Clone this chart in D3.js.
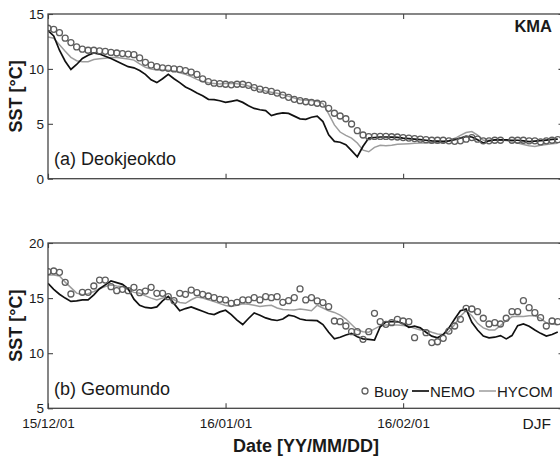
<!DOCTYPE html>
<html>
<head>
<meta charset="utf-8">
<script src="https://cdnjs.cloudflare.com/ajax/libs/d3/7.8.5/d3.min.js"></script>
<style>
body { margin: 0; background: #fff; }
text { font-family: "Liberation Sans", Arial, Helvetica, sans-serif; fill: #1a1a1a; }
</style>
</head>
<body>
<div id="chart"></div>
<script>
// SST TIME SERIES - KMA buoys, winter (DJF)

// Data (daily values, day 0 = 2015-12-01)

var startDay = "2015-12-01";
var endDay = "2016-02-29";
var tickDates = ["2015-12-01", "2016-01-01", "2016-02-01"];
var seriesNames = ["Buoy", "NEMO", "HYCOM"];
var yTicksA = [0, 5, 10, 15];
var yTicksB = [5, 10, 15, 20];

// (a) Deokjeokdo
var buoyA = [
    13.7, 13.6, 13.3, 12.8, 12.4, 12.0, 11.8, 11.7, 11.7, 11.65,
    11.6, 11.5, 11.45, 11.4, 11.35, 11.3, 11.0, 10.6, 10.35, 10.2,
    10.1, 10.05, 10.0, 9.95, 9.85, 9.7, 9.5, 9.1, 8.85, 8.7,
    8.65, 8.6, 8.55, 8.6, 8.6, 8.5, 8.3, 8.15, 8.05, 7.95,
    7.8, 7.62, 7.41, 7.23, 7.11, 7.01, 6.96, 6.87, 6.8, 6.41,
    5.96, 5.71, 5.46, 4.98, 4.37, 3.98, 3.83, 3.85, 3.85, 3.85,
    3.82, 3.8, 3.75, 3.7, 3.65, 3.6, 3.55, 3.5, 3.5, 3.5,
    3.45, 3.4, 3.45, 3.6, 3.75, 3.6, 3.45, 3.45, 3.5, 3.5,
    null, 3.5, 3.5, 3.5, 3.45, 3.45, 3.35, 3.45, 3.5, 3.55
];
var nemoA = [
    13.5, 13.0, 11.7, 10.7, 9.95, 10.4, 10.95, 11.25, 11.45, 11.35,
    11.15, 10.95, 10.7, 10.45, 10.2, 10.1, 9.85, 9.5, 9.0, 8.75,
    9.1, 9.5, 9.1, 8.75, 8.35, 8.1, 7.8, 7.55, 7.23, 7.2,
    7.1, 6.95, 7.05, 7.15, 6.95, 6.65, 6.4, 6.28, 6.2, 5.75,
    5.9, 6.0, 5.95, 5.7, 5.45, 5.4, 5.6, 5.7, 5.2, 4.0,
    3.4, 3.32, 3.1, 2.55, 2.0, 2.95, 3.7, 3.75, 3.8, 3.8,
    3.78, 3.77, 3.7, 3.65, 3.6, 3.55, 3.5, 3.45, 3.42, 3.4,
    3.45, 3.55, 3.7, 3.85, 3.8, 3.55, 3.25, 3.45, 3.53, 3.53,
    3.53, 3.5, 3.5, 3.45, 3.38, 3.42, 3.47, 3.52, 3.58, 3.6
];
var hycomA = [
    12.9, 12.8, 12.2, 11.6, 11.05, 10.75, 10.66, 10.66, 10.85, 10.93,
    10.98, 11.03, 11.03, 10.98, 10.9, 10.8, 10.45, 10.15, 9.98, 9.9,
    9.9, 9.88, 9.8, 9.65, 9.5, 9.3, 9.05, 8.85, 8.73, 8.68,
    8.63, 8.66, 8.69, 8.65, 8.58, 8.45, 8.28, 8.1, 7.98, 7.88,
    7.78, 7.64, 7.5, 7.35, 7.19, 7.15, 7.12, 7.06, 6.85, 5.9,
    4.9, 4.25, 3.95, 3.7, 3.25, 2.6, 2.45, 2.85, 3.05, 3.0,
    3.05, 3.13, 3.16, 3.19, 3.22, 3.24, 3.26, 3.28, 3.28, 3.28,
    3.45, 3.65, 3.95, 4.2, 4.3, 3.98, 3.5, 3.5, 3.53, 3.5,
    3.47, 3.38, 3.25, 3.12, 3.0, 2.93, 3.05, 3.12, 3.18, 3.22
];

// (b) Geomundo
var buoyB = [
    17.4, 17.46, 17.34, 16.43, 15.37, null, 15.52, 15.52, 16.1, 16.64,
    16.64, 16.04, 15.67, 15.8, 15.67, 15.98, 15.49, 15.64, 15.98, 15.43,
    15.43, 15.13, 14.77, 15.43, 15.34, 15.73, 15.49, 15.34, 15.19, 15.04,
    14.89, 14.83, 14.53, 14.62, 14.83, 14.83, 15.04, 14.83, 15.13, 15.04,
    15.13, 14.62, 14.77, 15.04, 15.83, 14.83, 15.04, 14.74, 14.59, 14.22,
    12.92, 12.86, 12.47, 11.95, 11.95, 11.26, 11.95, 13.62, 12.86, 12.62,
    12.77, 13.07, 12.92, 12.86, 11.41, null, 11.86, 10.96, 11.04, 11.35,
    12.01, 12.47, 13.07, 14.07, 14.01, 13.77, 13.17, 12.65, 12.77, 12.65,
    13.17, 13.77, 13.77, 14.77, 14.13, 13.68, 13.22, 12.47, 12.92, 12.86
];
var nemoB = [
    16.34, 15.8, 15.35, 15.0, 14.7, 14.75, 14.83, 14.83, 15.3, 15.85,
    16.2, 16.55, 16.4, 16.25, 15.85, 14.9, 14.35, 14.15, 14.1, 14.2,
    14.75, 15.15, 14.5, 13.85, 14.05, 14.2, 14.0, 13.8, 13.6, 13.5,
    13.75, 13.9, 13.5, 13.0, 12.6, 13.15, 13.65, 13.45, 13.2, 13.05,
    12.97, 13.1, 13.45, 13.35, 13.1, 13.0, 12.98, 12.95, 12.6, 11.9,
    11.3, 11.45, 11.65, 11.8, 11.5, 11.3, 11.25, 11.2, 12.4, 12.85,
    12.86, 12.86, 12.7, 12.35, 12.45, 12.3, 11.9, 11.55, 11.4, 11.7,
    12.3, 13.1, 13.85, 14.0, 12.8, 12.1, 11.55, 11.4, 11.45, 11.6,
    11.3, 11.6, 12.5, 12.65, 12.45, 12.1, 11.8, 11.55, 11.7, 11.92
];
var hycomB = [
    17.1, 17.1, 17.0, 16.45, 15.95, 15.45, 15.3, 15.4, 15.6, 15.85,
    16.05, 16.19, 16.1, 16.04, 15.75, 15.52, 15.45, 15.2, 15.0, 14.83,
    15.0, 15.1, 14.85, 14.6, 14.53, 14.85, 15.1, 15.0, 14.85, 14.68,
    14.5, 14.33, 14.25, 14.35, 14.48, 14.45, 14.35, 14.23, 14.3, 14.35,
    14.1, 13.97, 13.94, 13.93, 14.0, 13.95, 13.85, 14.35, 14.1, 13.85,
    13.7, 13.45, 13.1, 12.6, 12.1, 11.95, 11.9, 12.2, 12.48, 12.55,
    12.56, 12.56, 12.52, 12.45, 12.25, 12.1, 12.1, 11.9, 11.75, 11.7,
    11.95, 12.6, 13.35, 13.85, 13.4, 12.71, 12.3, 12.1, 12.1, 12.5,
    12.95, 13.3, 13.35, 13.32, 13.4, 13.4, 13.16, 12.75, 12.65, 12.58
];

// Chart variables

var width = 560;
var height = 456;
var left = 48;
var right = 563.5;
var tickLen = 5;
var tickFont = 13.5;
var axisColor = "#454545";

var panels = [
    {id: "a", top: 14, bottom: 178.7, yDomain: [0, 15], yTicks: yTicksA,
     buoy: buoyA, nemo: nemoA, hycom: hycomA, label: "(a) Deokjeokdo", dates: false},
    {id: "b", top: 243, bottom: 408.3, yDomain: [5, 20], yTicks: yTicksB,
     buoy: buoyB, nemo: nemoB, hycom: hycomB, label: "(b) Geomundo", dates: true}
];

var parseDay = d3.utcParse("%Y-%m-%d");
var start = parseDay(startDay);

function dayDate(i) {
    return d3.utcDay.offset(start, i);                                   // index -> calendar day
}

var svg = d3.select("#chart")
            .append("svg")
            .attr("width", width)
            .attr("height", height);

// Shared time scale

var x = d3.scaleUtc()
          .domain([start, parseDay(endDay)])
          .range([left, right]);

function styleAxis(sel) {
    sel.select(".domain").remove();
    sel.selectAll(".tick line").attr("stroke", axisColor).attr("stroke-width", 1.1);
    sel.selectAll(".tick text")
       .attr("fill", "#1a1a1a")
       .style("font-size", tickFont + "px")
       .style("font-family", "\"Liberation Sans\", Arial, sans-serif");
}

// Drawing each panel

panels.forEach(function(p) {

    var y = d3.scaleLinear()
              .domain(p.yDomain)
              .range([p.bottom, p.top]);

    svg.append("clipPath")
       .attr("id", "clip-" + p.id)
       .append("rect")
       .attr("x", left)
       .attr("y", p.top)
       .attr("width", right - left)
       .attr("height", p.bottom - p.top);

    var plot = svg.append("g").attr("clip-path", "url(#clip-" + p.id + ")");

    var line = d3.line()
                 .defined(function(d) { return d != null; })
                 .x(function(d, i) { return x(dayDate(i)); })
                 .y(function(d) { return y(d); });

    plot.append("path")                                                  // HYCOM (grey)
        .datum(p.hycom)
        .attr("d", line)
        .attr("fill", "none")
        .attr("stroke", "#9d9d9d")
        .attr("stroke-width", 1.5);

    plot.append("path")                                                  // NEMO (black)
        .datum(p.nemo)
        .attr("d", line)
        .attr("fill", "none")
        .attr("stroke", "#111")
        .attr("stroke-width", 1.7);

    plot.selectAll("circle")                                             // Buoy observations
        .data(p.buoy.map(function(v, i) { return {i: i, v: v}; })
                    .filter(function(d) { return d.v != null; }))
        .enter()
        .append("circle")
        .attr("cx", function(d) { return x(dayDate(d.i)); })
        .attr("cy", function(d) { return y(d.v); })
        .attr("r", 3)
        .attr("fill", "none")
        .attr("stroke", "#5e5e5e")
        .attr("stroke-width", 1.3);

    // Axes (ticks pointing inward)

    var xTicks = tickDates.map(parseDay);

    svg.append("g")
       .attr("transform", "translate(" + left + ",0)")
       .call(d3.axisLeft(y).tickValues(p.yTicks).tickSize(-tickLen).tickPadding(4))
       .call(styleAxis);

    svg.append("g")
       .attr("transform", "translate(" + right + ",0)")
       .call(d3.axisRight(y).tickValues(p.yTicks).tickSize(-tickLen).tickFormat(""))
       .call(styleAxis);

    svg.append("g")
       .attr("transform", "translate(0," + p.top + ")")
       .call(d3.axisTop(x).tickValues(xTicks).tickSize(-tickLen).tickFormat(""))
       .call(styleAxis);

    svg.append("g")
       .attr("transform", "translate(0," + p.bottom + ")")
       .call(d3.axisBottom(x).tickValues(xTicks).tickSize(-tickLen).tickPadding(10.5)
               .tickFormat(p.dates ? d3.utcFormat("%y/%m/%d") : ""))
       .call(styleAxis);

    // Frame

    svg.append("rect")
       .attr("x", left)
       .attr("y", p.top)
       .attr("width", right - left)
       .attr("height", p.bottom - p.top)
       .attr("fill", "none")
       .attr("stroke", axisColor)
       .attr("stroke-width", 1.3);

    // Y label and panel label

    svg.append("text")
       .attr("transform", "translate(22," + ((p.top + p.bottom) / 2) + ") rotate(-90)")
       .attr("text-anchor", "middle")
       .style("font-size", "18px")
       .style("font-weight", "bold")
       .text("SST [\u00B0C]");

    svg.append("text")
       .attr("x", left + 6)
       .attr("y", p.bottom - 13.5)
       .style("font-size", "18px")
       .text(p.label);
});

// Annotations

svg.append("text")
   .attr("x", 552)
   .attr("y", 32)
   .attr("text-anchor", "end")
   .style("font-size", "16.5px")
   .style("font-weight", "bold")
   .text("KMA");

svg.append("text")
   .attr("x", 551)
   .attr("y", 428.5)
   .attr("text-anchor", "end")
   .style("font-size", "15.5px")
   .text("DJF");

svg.append("text")
   .attr("x", 306)
   .attr("y", 452)
   .attr("text-anchor", "middle")
   .style("font-size", "18px")
   .style("font-weight", "bold")
   .text("Date [YY/MM/DD]");

// Legend

var legend = svg.append("g").attr("transform", "translate(0,391)");

legend.append("circle")
      .attr("cx", 365).attr("cy", 0).attr("r", 3)
      .attr("fill", "none").attr("stroke", "#5e5e5e").attr("stroke-width", 1.3);
legend.append("text").attr("x", 374).attr("y", 5.5).style("font-size", "15px").text(seriesNames[0]);

legend.append("line")
      .attr("x1", 412).attr("x2", 429).attr("y1", 0).attr("y2", 0)
      .attr("stroke", "#111").attr("stroke-width", 1.7);
legend.append("text").attr("x", 430).attr("y", 5.5).style("font-size", "15px").text(seriesNames[1]);

legend.append("line")
      .attr("x1", 479).attr("x2", 496).attr("y1", 0).attr("y2", 0)
      .attr("stroke", "#9d9d9d").attr("stroke-width", 1.5);
legend.append("text").attr("x", 497).attr("y", 5.5).style("font-size", "15px").text(seriesNames[2]);

</script>
</body>
</html>
